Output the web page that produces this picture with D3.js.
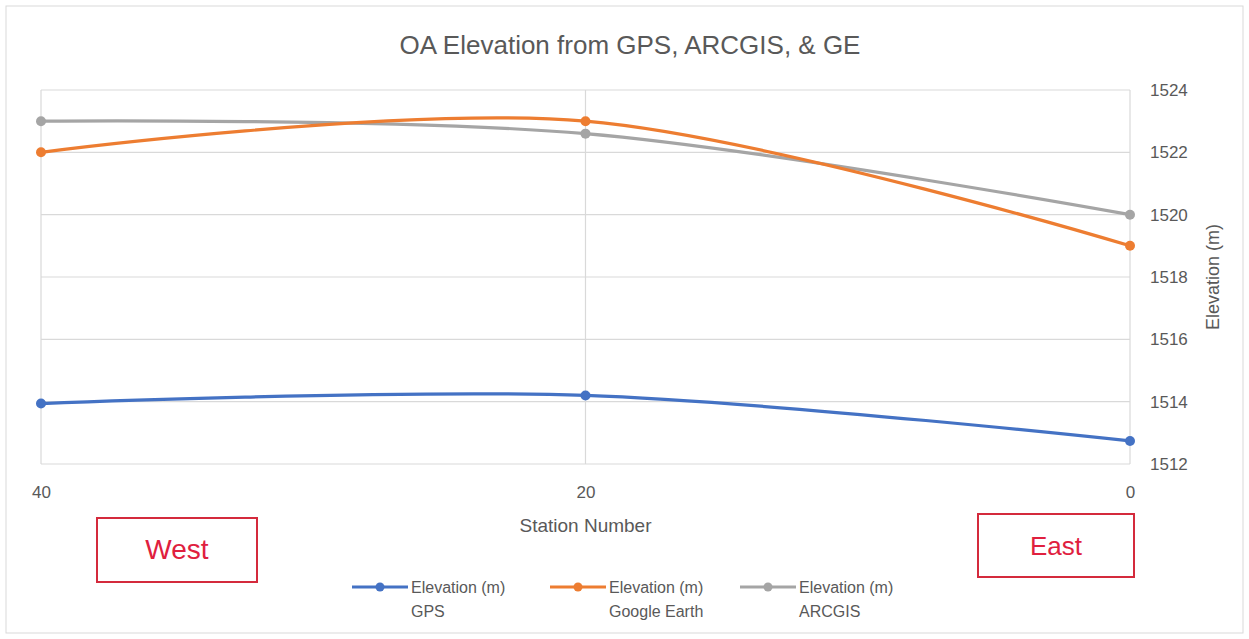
<!DOCTYPE html>
<html>
<head>
<meta charset="utf-8">
<script src="https://cdn.jsdelivr.net/npm/d3@7"></script>
<style>
  body { margin: 0; background: #fff; }
  text { font-family: "Liberation Sans", Arial, sans-serif; fill: #595959; }
</style>
</head>
<body>
<div id="chart"></div>
<script>
// data
const stations = [40, 20, 0];
const gps = [1513.94, 1514.2, 1512.74];
const googleEarth = [1522, 1523, 1519];
const arcgis = [1523, 1522.6, 1520];
const yTicks = [1512, 1514, 1516, 1518, 1520, 1522, 1524];
const seriesNames = ["GPS", "Google Earth", "ARCGIS"];
const colors = ["#4472C4", "#ED7D31", "#A5A5A5"];

const W = 1249, H = 639;
const margin = { top: 90, right: 119, bottom: 175, left: 41 };
const width = W - margin.left - margin.right,
  height = H - margin.top - margin.bottom;

const svg = d3.select("#chart").append("svg")
  .attr("width", W)
  .attr("height", H);

// outer frame
svg.append("rect")
  .attr("x", 6).attr("y", 6)
  .attr("width", W - 12).attr("height", H - 12)
  .attr("fill", "#fff")
  .attr("stroke", "#d9d9d9");

svg.append("text")
  .text("OA Elevation from GPS, ARCGIS, & GE")
  .attr("x", 630).attr("y", 54)
  .attr("text-anchor", "middle")
  .attr("font-size", 26);

const g = svg.append("g")
  .attr("transform", "translate(" + margin.left + "," + margin.top + ")");

// scales
const xScale = d3.scaleLinear().domain([40, 0]).range([0, width]);
const yScale = d3.scaleLinear().domain([1512, 1524]).range([height, 0]);

// gridlines
g.selectAll(".hgrid").data(yTicks).enter().append("line")
  .attr("class", "hgrid")
  .attr("x1", 0).attr("x2", width)
  .attr("y1", d => yScale(d)).attr("y2", d => yScale(d))
  .attr("stroke", "#d9d9d9").attr("stroke-width", 1.2);

g.selectAll(".vgrid").data(stations).enter().append("line")
  .attr("class", "vgrid")
  .attr("x1", d => xScale(d)).attr("x2", d => xScale(d))
  .attr("y1", 0).attr("y2", height)
  .attr("stroke", "#d9d9d9").attr("stroke-width", 1.2);

// axes
const yAxis = d3.axisRight(yScale).tickValues(yTicks).tickFormat(d3.format("d"))
  .tickSize(0).tickPadding(20);
const xAxis = d3.axisBottom(xScale).tickValues(stations).tickSize(0).tickPadding(22);

const ya = g.append("g")
  .attr("transform", "translate(" + width + ",0)")
  .call(yAxis);
const xa = g.append("g")
  .attr("transform", "translate(0," + height + ")")
  .call(xAxis);
[ya, xa].forEach(a => {
  a.select(".domain").remove();
  a.selectAll("text").attr("font-size", 17).attr("fill", "#595959")
    .style("font-family", "Liberation Sans, Arial, sans-serif");
});

// axis titles
svg.append("text")
  .text("Elevation (m)")
  .attr("transform", "translate(1219," + (margin.top + height / 2) + ") rotate(-90)")
  .attr("text-anchor", "middle")
  .attr("font-size", 18);

svg.append("text")
  .text("Station Number")
  .attr("x", margin.left + xScale(20)).attr("y", 532)
  .attr("text-anchor", "middle")
  .attr("font-size", 19);

// lines
const allSeries = [gps, googleEarth, arcgis];
const line = d3.line()
  .x((d, i) => xScale(stations[i]))
  .y(d => yScale(d))
  .curve(d3.curveCardinal.tension(0));

// draw grey then orange then blue so order matches
[2, 1, 0].forEach(k => {
  g.append("path")
    .datum(allSeries[k])
    .attr("d", line)
    .attr("fill", "none")
    .attr("stroke", colors[k])
    .attr("stroke-width", 3.2);
  g.selectAll(".pt" + k).data(allSeries[k]).enter().append("circle")
    .attr("class", "pt" + k)
    .attr("cx", (d, i) => xScale(stations[i]))
    .attr("cy", d => yScale(d))
    .attr("r", 5)
    .attr("fill", colors[k]);
});

// West / East boxes
const boxes = [
  { label: "West", x: 97, y: 518, w: 160, h: 64 },
  { label: "East", x: 978, y: 514, w: 156, h: 63 }
];
boxes.forEach(b => {
  svg.append("rect")
    .attr("x", b.x).attr("y", b.y)
    .attr("width", b.w).attr("height", b.h)
    .attr("fill", "#fff")
    .attr("stroke", "#d42a3c").attr("stroke-width", 2);
  svg.append("text")
    .text(b.label)
    .attr("x", b.x + b.w / 2).attr("y", b.y + b.h / 2 + 9)
    .attr("text-anchor", "middle")
    .attr("font-size", b.label === "West" ? 28 : 26)
    .style("fill", "#e0203e");
});

// legend
const legendX = [352, 550, 740];
seriesNames.forEach((name, k) => {
  const lg = svg.append("g").attr("transform", "translate(" + legendX[k] + ",587)");
  lg.append("line")
    .attr("x1", 0).attr("x2", 56)
    .attr("y1", 0).attr("y2", 0)
    .attr("stroke", colors[k]).attr("stroke-width", 3);
  lg.append("circle").attr("cx", 28).attr("cy", 0).attr("r", 4.5).attr("fill", colors[k]);
  lg.append("text").text("Elevation (m)")
    .attr("x", 59).attr("y", 6).attr("font-size", 16);
  lg.append("text").text(name)
    .attr("x", 59).attr("y", 30).attr("font-size", 16);
});
</script>
</body>
</html>
